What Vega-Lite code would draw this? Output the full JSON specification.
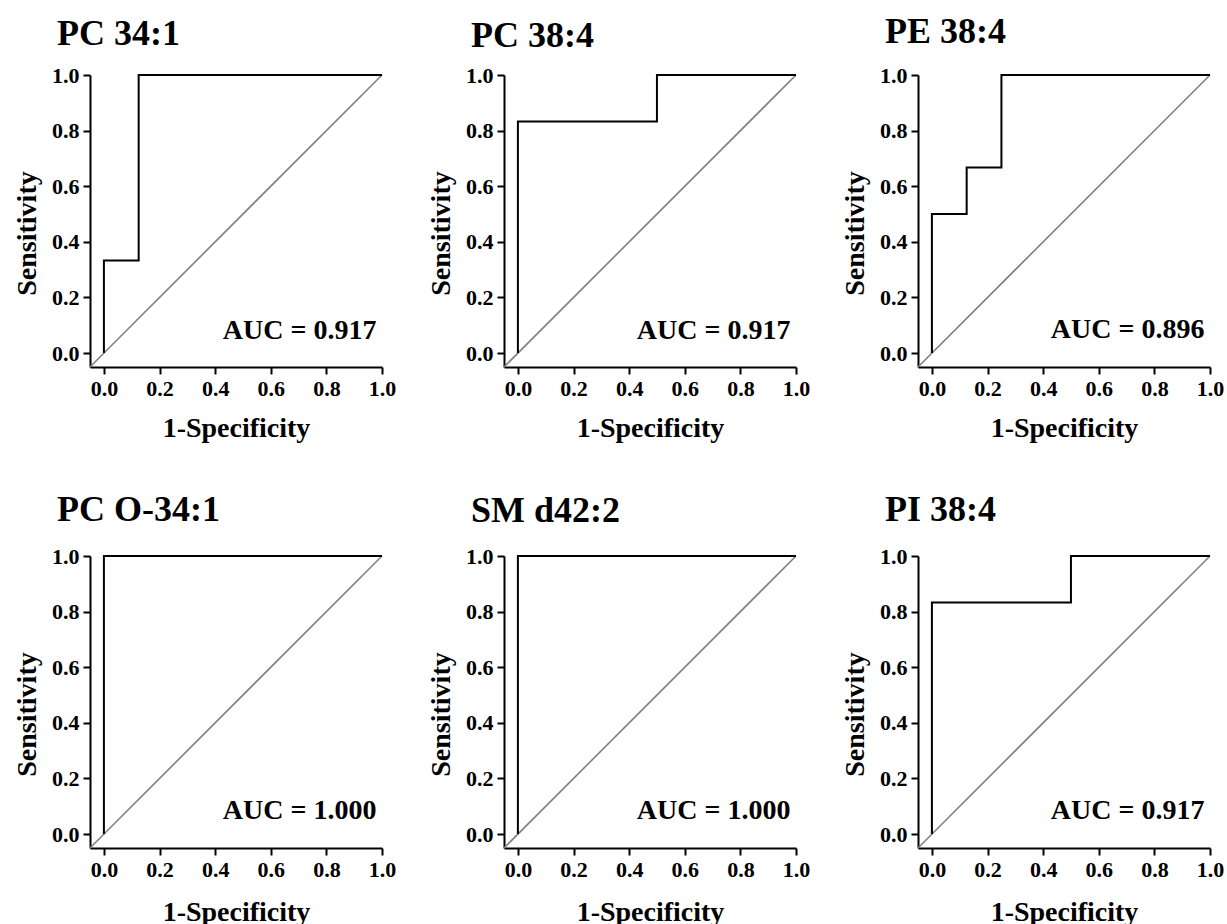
{
  "$schema": "https://vega.github.io/schema/vega-lite/v6.json",
  "padding": {"left": 13, "top": 14, "right": 0, "bottom": 0},
  "background": "white",
  "datasets": {
    "roc": [
      {"panel": "PC 34:1", "i": 0, "x": 0, "y": 0},
      {"panel": "PC 34:1", "i": 1, "x": 0, "y": 0.333},
      {"panel": "PC 34:1", "i": 2, "x": 0.125, "y": 0.333},
      {"panel": "PC 34:1", "i": 3, "x": 0.125, "y": 1},
      {"panel": "PC 34:1", "i": 4, "x": 1, "y": 1},
      {"panel": "PC 38:4", "i": 0, "x": 0, "y": 0},
      {"panel": "PC 38:4", "i": 1, "x": 0, "y": 0.833},
      {"panel": "PC 38:4", "i": 2, "x": 0.5, "y": 0.833},
      {"panel": "PC 38:4", "i": 3, "x": 0.5, "y": 1},
      {"panel": "PC 38:4", "i": 4, "x": 1, "y": 1},
      {"panel": "PE 38:4", "i": 0, "x": 0, "y": 0},
      {"panel": "PE 38:4", "i": 1, "x": 0, "y": 0.5},
      {"panel": "PE 38:4", "i": 2, "x": 0.125, "y": 0.5},
      {"panel": "PE 38:4", "i": 3, "x": 0.125, "y": 0.667},
      {"panel": "PE 38:4", "i": 4, "x": 0.25, "y": 0.667},
      {"panel": "PE 38:4", "i": 5, "x": 0.25, "y": 1},
      {"panel": "PE 38:4", "i": 6, "x": 1, "y": 1},
      {"panel": "PC O-34:1", "i": 0, "x": 0, "y": 0},
      {"panel": "PC O-34:1", "i": 1, "x": 0, "y": 1},
      {"panel": "PC O-34:1", "i": 2, "x": 1, "y": 1},
      {"panel": "SM d42:2", "i": 0, "x": 0, "y": 0},
      {"panel": "SM d42:2", "i": 1, "x": 0, "y": 1},
      {"panel": "SM d42:2", "i": 2, "x": 1, "y": 1},
      {"panel": "PI 38:4", "i": 0, "x": 0, "y": 0},
      {"panel": "PI 38:4", "i": 1, "x": 0, "y": 0.833},
      {"panel": "PI 38:4", "i": 2, "x": 0.5, "y": 0.833},
      {"panel": "PI 38:4", "i": 3, "x": 0.5, "y": 1},
      {"panel": "PI 38:4", "i": 4, "x": 1, "y": 1}
    ],
    "diag": [
      {"i": 0, "x": -0.05, "y": -0.05},
      {"i": 1, "x": 1, "y": 1}
    ],
    "auc": [
      {"panel": "PC 34:1", "label": "AUC = 0.917"},
      {"panel": "PC 38:4", "label": "AUC = 0.917"},
      {"panel": "PE 38:4", "label": "AUC = 0.896"},
      {"panel": "PC O-34:1", "label": "AUC = 1.000"},
      {"panel": "SM d42:2", "label": "AUC = 1.000"},
      {"panel": "PI 38:4", "label": "AUC = 0.917"}
    ]
  },
  "columns": 3,
  "spacing": {"row": 189, "column": 122},
  "bounds": "flush",
  "concat": [
    {
      "width": 292, "height": 292,
      "title": {"text": "PC 34:1", "offset": 11},
      "layer": [
        {"data": {"name": "diag"}, "mark": {"type": "line", "color": "#808080", "strokeWidth": 1.6, "clip": false},
         "encoding": {
           "x": {"field": "x", "type": "quantitative", "scale": {"domain": [-0.05, 1], "nice": false, "zero": false},
                 "axis": {"title": "1-Specificity", "values": [0,0.1,0.2,0.3,0.4,0.5,0.6,0.7,0.8,0.9,1], "labelExpr": "round(datum.value*10)%2==1 ? '' : format(datum.value, '.1f')", "tickSize": {"condition": {"test": "round(datum.value*10)%2==1", "value": 4}, "value": 7}}},
           "y": {"field": "y", "type": "quantitative", "scale": {"domain": [-0.05, 1], "nice": false, "zero": false},
                 "axis": {"title": "Sensitivity", "titleY": 158, "values": [0,0.1,0.2,0.3,0.4,0.5,0.6,0.7,0.8,0.9,1], "labelExpr": "round(datum.value*10)%2==1 ? '' : format(datum.value, '.1f')", "tickSize": {"condition": {"test": "round(datum.value*10)%2==1", "value": 4}, "value": 7}}},
           "order": {"field": "i"}}},
        {"data": {"name": "roc"}, "transform": [{"filter": "datum.panel === 'PC 34:1'"}],
         "mark": {"type": "line", "color": "black", "strokeWidth": 2},
         "encoding": {"x": {"field": "x", "type": "quantitative"}, "y": {"field": "y", "type": "quantitative"}, "order": {"field": "i"}}},
        {"data": {"name": "auc"}, "transform": [{"filter": "datum.panel === 'PC 34:1'"}],
         "mark": {"type": "text", "align": "right", "baseline": "alphabetic", "font": "Liberation Serif", "fontWeight": "bold", "fontSize": 28, "color": "black"},
         "encoding": {"x": {"datum": 0.98, "type": "quantitative"}, "y": {"datum": 0.05, "type": "quantitative"}, "text": {"field": "label"}}}
      ]
    },
    {
      "width": 292, "height": 292,
      "title": {"text": "PC 38:4", "offset": 9},
      "layer": [
        {"data": {"name": "diag"}, "mark": {"type": "line", "color": "#808080", "strokeWidth": 1.6, "clip": false},
         "encoding": {
           "x": {"field": "x", "type": "quantitative", "scale": {"domain": [-0.05, 1], "nice": false, "zero": false},
                 "axis": {"title": "1-Specificity", "values": [0,0.1,0.2,0.3,0.4,0.5,0.6,0.7,0.8,0.9,1], "labelExpr": "round(datum.value*10)%2==1 ? '' : format(datum.value, '.1f')", "tickSize": {"condition": {"test": "round(datum.value*10)%2==1", "value": 4}, "value": 7}}},
           "y": {"field": "y", "type": "quantitative", "scale": {"domain": [-0.05, 1], "nice": false, "zero": false},
                 "axis": {"title": "Sensitivity", "titleY": 158, "values": [0,0.1,0.2,0.3,0.4,0.5,0.6,0.7,0.8,0.9,1], "labelExpr": "round(datum.value*10)%2==1 ? '' : format(datum.value, '.1f')", "tickSize": {"condition": {"test": "round(datum.value*10)%2==1", "value": 4}, "value": 7}}},
           "order": {"field": "i"}}},
        {"data": {"name": "roc"}, "transform": [{"filter": "datum.panel === 'PC 38:4'"}],
         "mark": {"type": "line", "color": "black", "strokeWidth": 2},
         "encoding": {"x": {"field": "x", "type": "quantitative"}, "y": {"field": "y", "type": "quantitative"}, "order": {"field": "i"}}},
        {"data": {"name": "auc"}, "transform": [{"filter": "datum.panel === 'PC 38:4'"}],
         "mark": {"type": "text", "align": "right", "baseline": "alphabetic", "font": "Liberation Serif", "fontWeight": "bold", "fontSize": 28, "color": "black"},
         "encoding": {"x": {"datum": 0.98, "type": "quantitative"}, "y": {"datum": 0.05, "type": "quantitative"}, "text": {"field": "label"}}}
      ]
    },
    {
      "width": 292, "height": 292,
      "title": {"text": "PE 38:4", "offset": 13},
      "layer": [
        {"data": {"name": "diag"}, "mark": {"type": "line", "color": "#808080", "strokeWidth": 1.6, "clip": false},
         "encoding": {
           "x": {"field": "x", "type": "quantitative", "scale": {"domain": [-0.05, 1], "nice": false, "zero": false},
                 "axis": {"title": "1-Specificity", "values": [0,0.1,0.2,0.3,0.4,0.5,0.6,0.7,0.8,0.9,1], "labelExpr": "round(datum.value*10)%2==1 ? '' : format(datum.value, '.1f')", "tickSize": {"condition": {"test": "round(datum.value*10)%2==1", "value": 4}, "value": 7}}},
           "y": {"field": "y", "type": "quantitative", "scale": {"domain": [-0.05, 1], "nice": false, "zero": false},
                 "axis": {"title": "Sensitivity", "titleY": 158, "values": [0,0.1,0.2,0.3,0.4,0.5,0.6,0.7,0.8,0.9,1], "labelExpr": "round(datum.value*10)%2==1 ? '' : format(datum.value, '.1f')", "tickSize": {"condition": {"test": "round(datum.value*10)%2==1", "value": 4}, "value": 7}}},
           "order": {"field": "i"}}},
        {"data": {"name": "roc"}, "transform": [{"filter": "datum.panel === 'PE 38:4'"}],
         "mark": {"type": "line", "color": "black", "strokeWidth": 2},
         "encoding": {"x": {"field": "x", "type": "quantitative"}, "y": {"field": "y", "type": "quantitative"}, "order": {"field": "i"}}},
        {"data": {"name": "auc"}, "transform": [{"filter": "datum.panel === 'PE 38:4'"}],
         "mark": {"type": "text", "align": "right", "baseline": "alphabetic", "font": "Liberation Serif", "fontWeight": "bold", "fontSize": 28, "color": "black"},
         "encoding": {"x": {"datum": 0.98, "type": "quantitative"}, "y": {"datum": 0.055, "type": "quantitative"}, "text": {"field": "label"}}}
      ]
    },
    {
      "width": 292, "height": 292,
      "title": {"text": "PC O-34:1", "offset": 16},
      "layer": [
        {"data": {"name": "diag"}, "mark": {"type": "line", "color": "#808080", "strokeWidth": 1.6, "clip": false},
         "encoding": {
           "x": {"field": "x", "type": "quantitative", "scale": {"domain": [-0.05, 1], "nice": false, "zero": false},
                 "axis": {"title": "1-Specificity", "titlePadding": 18, "values": [0,0.1,0.2,0.3,0.4,0.5,0.6,0.7,0.8,0.9,1], "labelExpr": "round(datum.value*10)%2==1 ? '' : format(datum.value, '.1f')", "tickSize": {"condition": {"test": "round(datum.value*10)%2==1", "value": 4}, "value": 7}}},
           "y": {"field": "y", "type": "quantitative", "scale": {"domain": [-0.05, 1], "nice": false, "zero": false},
                 "axis": {"title": "Sensitivity", "titleY": 158, "values": [0,0.1,0.2,0.3,0.4,0.5,0.6,0.7,0.8,0.9,1], "labelExpr": "round(datum.value*10)%2==1 ? '' : format(datum.value, '.1f')", "tickSize": {"condition": {"test": "round(datum.value*10)%2==1", "value": 4}, "value": 7}}},
           "order": {"field": "i"}}},
        {"data": {"name": "roc"}, "transform": [{"filter": "datum.panel === 'PC O-34:1'"}],
         "mark": {"type": "line", "color": "black", "strokeWidth": 2},
         "encoding": {"x": {"field": "x", "type": "quantitative"}, "y": {"field": "y", "type": "quantitative"}, "order": {"field": "i"}}},
        {"data": {"name": "auc"}, "transform": [{"filter": "datum.panel === 'PC O-34:1'"}],
         "mark": {"type": "text", "align": "right", "baseline": "alphabetic", "font": "Liberation Serif", "fontWeight": "bold", "fontSize": 28, "color": "black"},
         "encoding": {"x": {"datum": 0.98, "type": "quantitative"}, "y": {"datum": 0.055, "type": "quantitative"}, "text": {"field": "label"}}}
      ]
    },
    {
      "width": 292, "height": 292,
      "title": {"text": "SM d42:2", "offset": 15},
      "layer": [
        {"data": {"name": "diag"}, "mark": {"type": "line", "color": "#808080", "strokeWidth": 1.6, "clip": false},
         "encoding": {
           "x": {"field": "x", "type": "quantitative", "scale": {"domain": [-0.05, 1], "nice": false, "zero": false},
                 "axis": {"title": "1-Specificity", "titlePadding": 18, "values": [0,0.1,0.2,0.3,0.4,0.5,0.6,0.7,0.8,0.9,1], "labelExpr": "round(datum.value*10)%2==1 ? '' : format(datum.value, '.1f')", "tickSize": {"condition": {"test": "round(datum.value*10)%2==1", "value": 4}, "value": 7}}},
           "y": {"field": "y", "type": "quantitative", "scale": {"domain": [-0.05, 1], "nice": false, "zero": false},
                 "axis": {"title": "Sensitivity", "titleY": 158, "values": [0,0.1,0.2,0.3,0.4,0.5,0.6,0.7,0.8,0.9,1], "labelExpr": "round(datum.value*10)%2==1 ? '' : format(datum.value, '.1f')", "tickSize": {"condition": {"test": "round(datum.value*10)%2==1", "value": 4}, "value": 7}}},
           "order": {"field": "i"}}},
        {"data": {"name": "roc"}, "transform": [{"filter": "datum.panel === 'SM d42:2'"}],
         "mark": {"type": "line", "color": "black", "strokeWidth": 2},
         "encoding": {"x": {"field": "x", "type": "quantitative"}, "y": {"field": "y", "type": "quantitative"}, "order": {"field": "i"}}},
        {"data": {"name": "auc"}, "transform": [{"filter": "datum.panel === 'SM d42:2'"}],
         "mark": {"type": "text", "align": "right", "baseline": "alphabetic", "font": "Liberation Serif", "fontWeight": "bold", "fontSize": 28, "color": "black"},
         "encoding": {"x": {"datum": 0.98, "type": "quantitative"}, "y": {"datum": 0.055, "type": "quantitative"}, "text": {"field": "label"}}}
      ]
    },
    {
      "width": 292, "height": 292,
      "title": {"text": "PI 38:4", "offset": 16},
      "layer": [
        {"data": {"name": "diag"}, "mark": {"type": "line", "color": "#808080", "strokeWidth": 1.6, "clip": false},
         "encoding": {
           "x": {"field": "x", "type": "quantitative", "scale": {"domain": [-0.05, 1], "nice": false, "zero": false},
                 "axis": {"title": "1-Specificity", "titlePadding": 18, "values": [0,0.1,0.2,0.3,0.4,0.5,0.6,0.7,0.8,0.9,1], "labelExpr": "round(datum.value*10)%2==1 ? '' : format(datum.value, '.1f')", "tickSize": {"condition": {"test": "round(datum.value*10)%2==1", "value": 4}, "value": 7}}},
           "y": {"field": "y", "type": "quantitative", "scale": {"domain": [-0.05, 1], "nice": false, "zero": false},
                 "axis": {"title": "Sensitivity", "titleY": 158, "values": [0,0.1,0.2,0.3,0.4,0.5,0.6,0.7,0.8,0.9,1], "labelExpr": "round(datum.value*10)%2==1 ? '' : format(datum.value, '.1f')", "tickSize": {"condition": {"test": "round(datum.value*10)%2==1", "value": 4}, "value": 7}}},
           "order": {"field": "i"}}},
        {"data": {"name": "roc"}, "transform": [{"filter": "datum.panel === 'PI 38:4'"}],
         "mark": {"type": "line", "color": "black", "strokeWidth": 2},
         "encoding": {"x": {"field": "x", "type": "quantitative"}, "y": {"field": "y", "type": "quantitative"}, "order": {"field": "i"}}},
        {"data": {"name": "auc"}, "transform": [{"filter": "datum.panel === 'PI 38:4'"}],
         "mark": {"type": "text", "align": "right", "baseline": "alphabetic", "font": "Liberation Serif", "fontWeight": "bold", "fontSize": 28, "color": "black"},
         "encoding": {"x": {"datum": 0.98, "type": "quantitative"}, "y": {"datum": 0.055, "type": "quantitative"}, "text": {"field": "label"}}}
      ]
    }
  ],
  "config": {
    "view": {"stroke": null},
    "font": "Liberation Serif",
    "title": {"font": "Liberation Serif", "fontWeight": "bold", "fontSize": 36, "color": "black", "anchor": "start", "dx": -33, "baseline": "alphabetic", "frame": "group"},
    "axis": {
      "grid": false,
      "domainColor": "black", "domainWidth": 2,
      "tickColor": "black", "tickWidth": 2,
      "labelFont": "Liberation Serif", "labelFontWeight": "bold", "labelFontSize": 22, "labelColor": "black", "labelPadding": 4, "labelFlush": false, "labelOverlap": false,
      "titleFont": "Liberation Serif", "titleFontWeight": "bold", "titleFontSize": 28, "titleColor": "black"
    },
    "axisX": {"titlePadding": 15},
    "axisY": {"titlePadding": 10}
  }
}
